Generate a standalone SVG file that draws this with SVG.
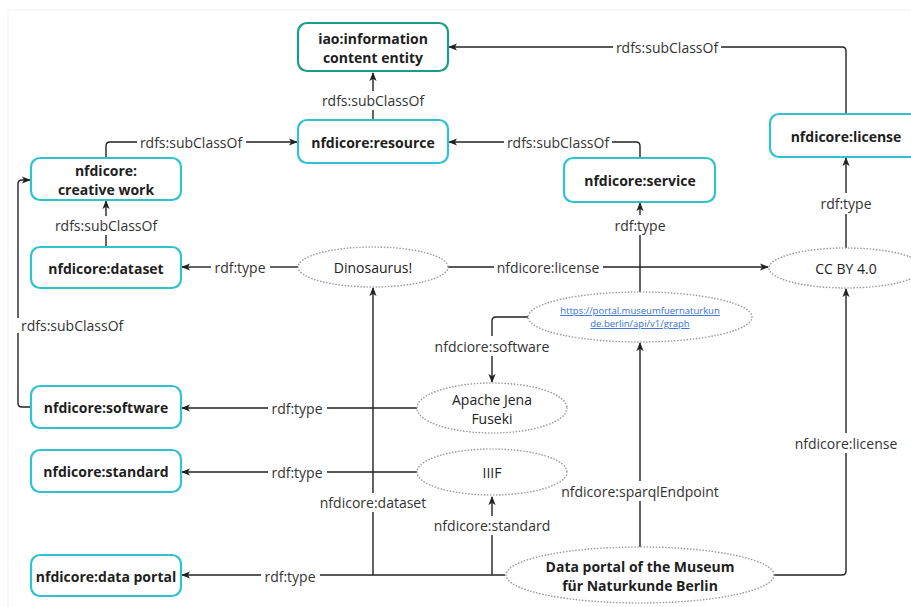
<svg xmlns="http://www.w3.org/2000/svg" width="911" height="607" viewBox="0 0 911 607">
<style>
.box{fill:#fff;stroke:#2ec3cf;stroke-width:2.2}
.box2{fill:#fff;stroke:#1b9c87;stroke-width:2.2}
.ell{fill:#fff;stroke:#9a9a9a;stroke-width:1.6;stroke-dasharray:0.1 3;stroke-linecap:round}
.nt{font-family:"Open Sans","Noto Sans",sans-serif;font-weight:bold;font-size:14px;fill:#1e1e1e;text-anchor:middle;dominant-baseline:central}
.et{font-family:"Open Sans","Noto Sans",sans-serif;font-size:14px;fill:#222;text-anchor:middle;dominant-baseline:central}
.lb{font-family:"Open Sans","Noto Sans",sans-serif;font-size:14px;fill:#333;text-anchor:middle;dominant-baseline:central}
.ln{fill:none;stroke:#222;stroke-width:1.4}
.link{font-family:"Open Sans","Noto Sans",sans-serif;font-size:9.5px;fill:#3a6fd8;text-anchor:middle;text-decoration:underline}
</style>
<defs>
<marker id="ar" viewBox="0 0 10 10" refX="9" refY="5" markerWidth="9" markerHeight="9" markerUnits="userSpaceOnUse" orient="auto">
<path d="M0,1 L10,5 L0,9 L2.5,5 z" fill="#222"/>
</marker>
</defs>
<rect x="0" y="0" width="911" height="607" fill="#fff"/>
<rect x="8" y="10" width="910" height="610" fill="none" stroke="#f3f3f3" stroke-width="1"/>

<g id="connectors">
<!-- license -> iao -->
<path class="ln" d="M846,114 V51 Q846,47 842,47 H721"/>
<path class="ln" d="M613,47 H449" marker-end="url(#ar)"/>
<text class="lb" x="667" y="47">rdfs:subClassOf</text>
<!-- service -> resource -->
<path class="ln" d="M640,158 V146 Q640,142 636,142 H612"/>
<path class="ln" d="M504,142 H449" marker-end="url(#ar)"/>
<text class="lb" x="558" y="142">rdfs:subClassOf</text>
<!-- creative -> resource -->
<path class="ln" d="M106,158 V146 Q106,142 110,142 H137"/>
<path class="ln" d="M246,142 H297" marker-end="url(#ar)"/>
<text class="lb" x="191" y="142">rdfs:subClassOf</text>
<!-- resource -> iao -->
<path class="ln" d="M373,120 V110"/>
<path class="ln" d="M373,91 V73" marker-end="url(#ar)"/>
<text class="lb" x="373" y="100">rdfs:subClassOf</text>
<!-- dataset -> creative -->
<path class="ln" d="M106,247 V235"/>
<path class="ln" d="M106,216 V201" marker-end="url(#ar)"/>
<text class="lb" x="106" y="225">rdfs:subClassOf</text>
<!-- Dinosaurus -> dataset -->
<path class="ln" d="M298,267 H270"/>
<path class="ln" d="M211,267 H182" marker-end="url(#ar)"/>
<text class="lb" x="240" y="267">rdf:type</text>
<!-- Dinosaurus -> CC -->
<path class="ln" d="M448,267 H494"/>
<path class="ln" d="M603,267 H768" marker-end="url(#ar)"/>
<text class="lb" x="548" y="267">nfdicore:license</text>
<!-- URL -> service -->
<path class="ln" d="M640,292 V235"/>
<path class="ln" d="M640,215 V203" marker-end="url(#ar)"/>
<text class="lb" x="640" y="225">rdf:type</text>
<!-- CC -> license -->
<path class="ln" d="M846,248 V214"/>
<path class="ln" d="M846,193 V158" marker-end="url(#ar)"/>
<text class="lb" x="846" y="203">rdf:type</text>
<!-- URL -> Apache -->
<path class="ln" d="M528,317 H496 Q492,317 492,321 V336"/>
<path class="ln" d="M492,356 V382" marker-end="url(#ar)"/>
<text class="lb" x="492" y="346">nfdciore:software</text>
<!-- Apache -> software -->
<path class="ln" d="M417,408 H327"/>
<path class="ln" d="M268,408 H182" marker-end="url(#ar)"/>
<text class="lb" x="297" y="408">rdf:type</text>
<!-- IIIF -> standard -->
<path class="ln" d="M417,472 H327"/>
<path class="ln" d="M268,472 H182" marker-end="url(#ar)"/>
<text class="lb" x="297" y="472">rdf:type</text>
<!-- software -> creative -->
<path class="ln" d="M31,407 H22 Q18,407 18,403 V333"/>
<path class="ln" d="M18,318 V184 Q18,180 22,180 H30" marker-end="url(#ar)"/>
<text class="lb" x="21" y="325" style="text-anchor:start">rdfs:subClassOf</text>
<!-- data portal -> data portal box -->
<path class="ln" d="M505,575 H320"/>
<path class="ln" d="M261,575 H182" marker-end="url(#ar)"/>
<text class="lb" x="290" y="576">rdf:type</text>
<!-- dataset -->
<path class="ln" d="M373,575 V512"/>
<path class="ln" d="M373,493 V288" marker-end="url(#ar)"/>
<text class="lb" x="373" y="502">nfdicore:dataset</text>
<!-- standard -->
<path class="ln" d="M492,575 V535"/>
<path class="ln" d="M492,516 V497" marker-end="url(#ar)"/>
<text class="lb" x="492" y="525">nfdicore:standard</text>
<!-- sparqlEndpoint -->
<path class="ln" d="M640,547 V501"/>
<path class="ln" d="M640,481 V343" marker-end="url(#ar)"/>
<text class="lb" x="640" y="491">nfdicore:sparqlEndpoint</text>
<!-- right license -->
<path class="ln" d="M774,575 H842 Q846,575 846,571 V453"/>
<path class="ln" d="M846,433 V289" marker-end="url(#ar)"/>
<text class="lb" x="846" y="443">nfdicore:license</text>
</g>

<g id="iao"><rect class="box2" x="298" y="23" width="150" height="48" rx="9"/>
<text class="nt" x="373" y="38">iao:information</text><text class="nt" x="373" y="57">content entity</text></g>
<g id="resource"><rect class="box" x="298" y="120" width="150" height="43" rx="9"/>
<text class="nt" x="373" y="142">nfdicore:resource</text></g>
<g id="creativework"><rect class="box" x="31" y="158" width="150" height="42" rx="9"/>
<text class="nt" x="106" y="170">nfdicore:</text><text class="nt" x="106" y="189">creative work</text></g>
<g id="dataset"><rect class="box" x="31" y="247" width="150" height="41" rx="9"/>
<text class="nt" x="106" y="268">nfdicore:dataset</text></g>
<g id="service"><rect class="box" x="564" y="158" width="151" height="44" rx="9"/>
<text class="nt" x="640" y="180">nfdicore:service</text></g>
<g id="license"><rect class="box" x="770" y="114" width="152" height="43" rx="9"/>
<text class="nt" x="846" y="136">nfdicore:license</text></g>
<g id="software"><rect class="box" x="31" y="386" width="150" height="42" rx="9"/>
<text class="nt" x="106" y="407">nfdicore:software</text></g>
<g id="standard"><rect class="box" x="31" y="450" width="150" height="42" rx="9"/>
<text class="nt" x="106" y="471">nfdicore:standard</text></g>
<g id="dataportalbox"><rect class="box" x="31" y="555" width="150" height="41" rx="9"/>
<text class="nt" x="106" y="576">nfdicore:data portal</text></g>

<g id="dinosaurus"><ellipse class="ell" cx="373" cy="267" rx="75" ry="20"/>
<text class="et" x="373" y="267">Dinosaurus!</text></g>
<g id="ccby"><ellipse class="ell" cx="846" cy="268" rx="77" ry="20"/>
<text class="et" x="846" y="268">CC BY 4.0</text></g>
<g id="url"><ellipse class="ell" cx="640" cy="317" rx="112" ry="25"/>
<text class="link" x="640" y="314">https://portal.museumfuernaturkun</text>
<text class="link" x="640" y="327">de.berlin/api/v1/graph</text></g>
<g id="apache"><ellipse class="ell" cx="492" cy="408" rx="75" ry="25"/>
<text class="et" x="492" y="399">Apache Jena</text><text class="et" x="492" y="418">Fuseki</text></g>
<g id="iiif"><ellipse class="ell" cx="492" cy="472" rx="75" ry="23"/>
<text class="et" x="492" y="472">IIIF</text></g>
<g id="dataportal"><ellipse class="ell" cx="640" cy="575" rx="134" ry="28"/>
<text class="nt" x="640" y="566">Data portal of the Museum</text><text class="nt" x="640" y="585">für Naturkunde Berlin</text></g>
</svg>
